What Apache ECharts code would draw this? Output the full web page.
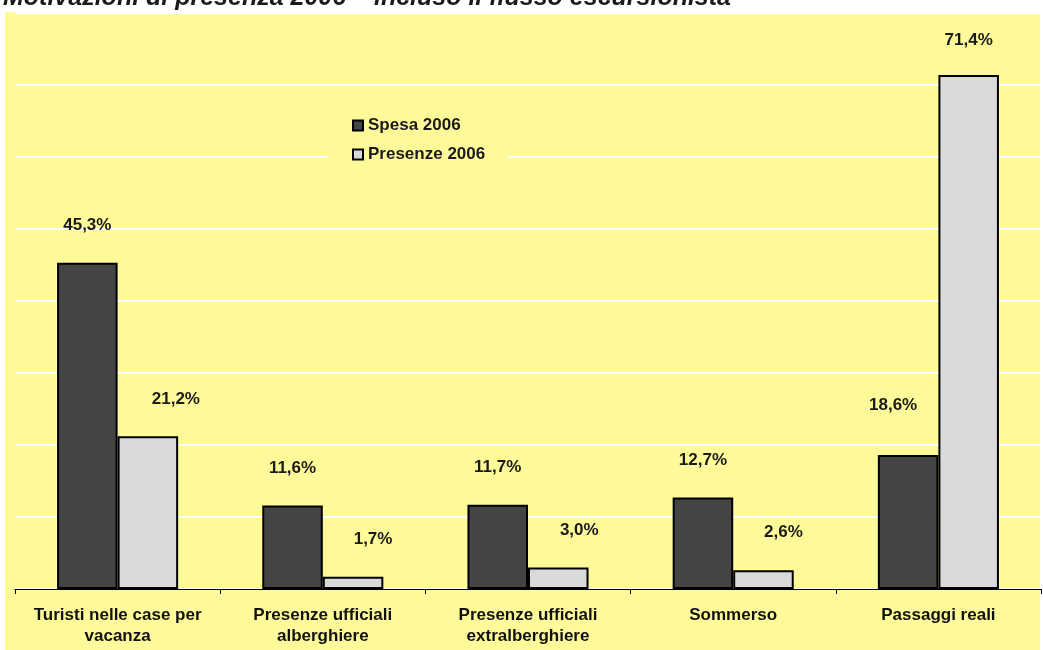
<!DOCTYPE html>
<html><head><meta charset="utf-8">
<script src="https://cdn.jsdelivr.net/npm/echarts@6/dist/echarts.min.js"></script>
<style>html,body{margin:0;padding:0;background:#fff}#c{width:1043px;height:650px}</style>
</head><body><div id="c"></div>
<script>
const categories = ['Turisti nelle case per\nvacanza', 'Presenze ufficiali\nalberghiere', 'Presenze ufficiali\nextralberghiere', 'Sommerso', 'Passaggi reali'];
const spesa2006 = [45.3, 11.6, 11.7, 12.7, 18.6];
const presenze2006 = [21.2, 1.7, 3.0, 2.6, 71.4];
const seriesNames = ['Spesa 2006', 'Presenze 2006'];
const titleText = 'Motivazioni di presenza 2006 – incluso il flusso escursionista';

// label offsets (style only)
const spesaLabelOffsets = [[0,0],[0,0],[0,0],[0,0],[-15,-12]];
const presLabelOffsets = [[28,0],[20,0],[21,0],[20,0],[0,3]];

const fmt = v => v.toFixed(1).replace('.', ',') + '%';
const labelBase = {show:true, position:'top', distance:29, fontFamily:'Liberation Sans, Arial', fontWeight:'bold', fontSize:17, color:'#1a1a1a', formatter:p=>fmt(p.value)};

const chart = echarts.init(document.getElementById('c'), null, {renderer:'canvas'});
chart.setOption({
  animation:false,
  backgroundColor:'#ffffff',
  graphic:[
    {type:'rect', z:-100, shape:{x:5,y:12,width:1035,height:640}, style:{fill:'#fffa99'}},
    {type:'text', z:10, x:3, y:11, style:{text:titleText, fontFamily:'Liberation Sans, Arial', fontWeight:'bold', fontStyle:'italic', fontSize:25, fill:'#1a1a1a', textVerticalAlign:'bottom'}}
  ],
  grid:{left:15, right:2, top:13, bottom:61},
  legend:{
    orient:'vertical', left:328, top:112, itemWidth:10, itemHeight:10, itemGap:12,
    padding:[5,23,5,24], backgroundColor:'#fffa99',
    textStyle:{fontFamily:'Liberation Sans, Arial', fontWeight:'bold', fontSize:17, color:'#1a1a1a'},
    data:seriesNames.map(n=>({name:n, icon:'rect'}))
  },
  xAxis:{
    type:'category', data:categories,
    axisLine:{lineStyle:{color:'#000', width:1.2}},
    axisTick:{show:true, length:5, lineStyle:{color:'#000'}},
    axisLabel:{interval:0, margin:16, fontFamily:'Liberation Sans, Arial', fontWeight:'bold', fontSize:17, lineHeight:21, color:'#111'}
  },
  yAxis:{
    type:'value', min:0, max:80, interval:10,
    axisLine:{show:false}, axisTick:{show:false}, axisLabel:{show:false},
    splitLine:{lineStyle:{color:'#ffffff', width:2}}
  },
  series:[
    {name:seriesNames[0], type:'bar', barGap:'0%', barCategoryGap:'41%',
     itemStyle:{color:'#444444', borderColor:'#000', borderWidth:2},
     data:spesa2006.map((v,i)=>({value:v, label:Object.assign({}, labelBase, {offset:spesaLabelOffsets[i]})}))},
    {name:seriesNames[1], type:'bar',
     itemStyle:{color:'#dadada', borderColor:'#000', borderWidth:2},
     data:presenze2006.map((v,i)=>({value:v, label:Object.assign({}, labelBase, {offset:presLabelOffsets[i]})}))}
  ]
});
</script></body></html>
